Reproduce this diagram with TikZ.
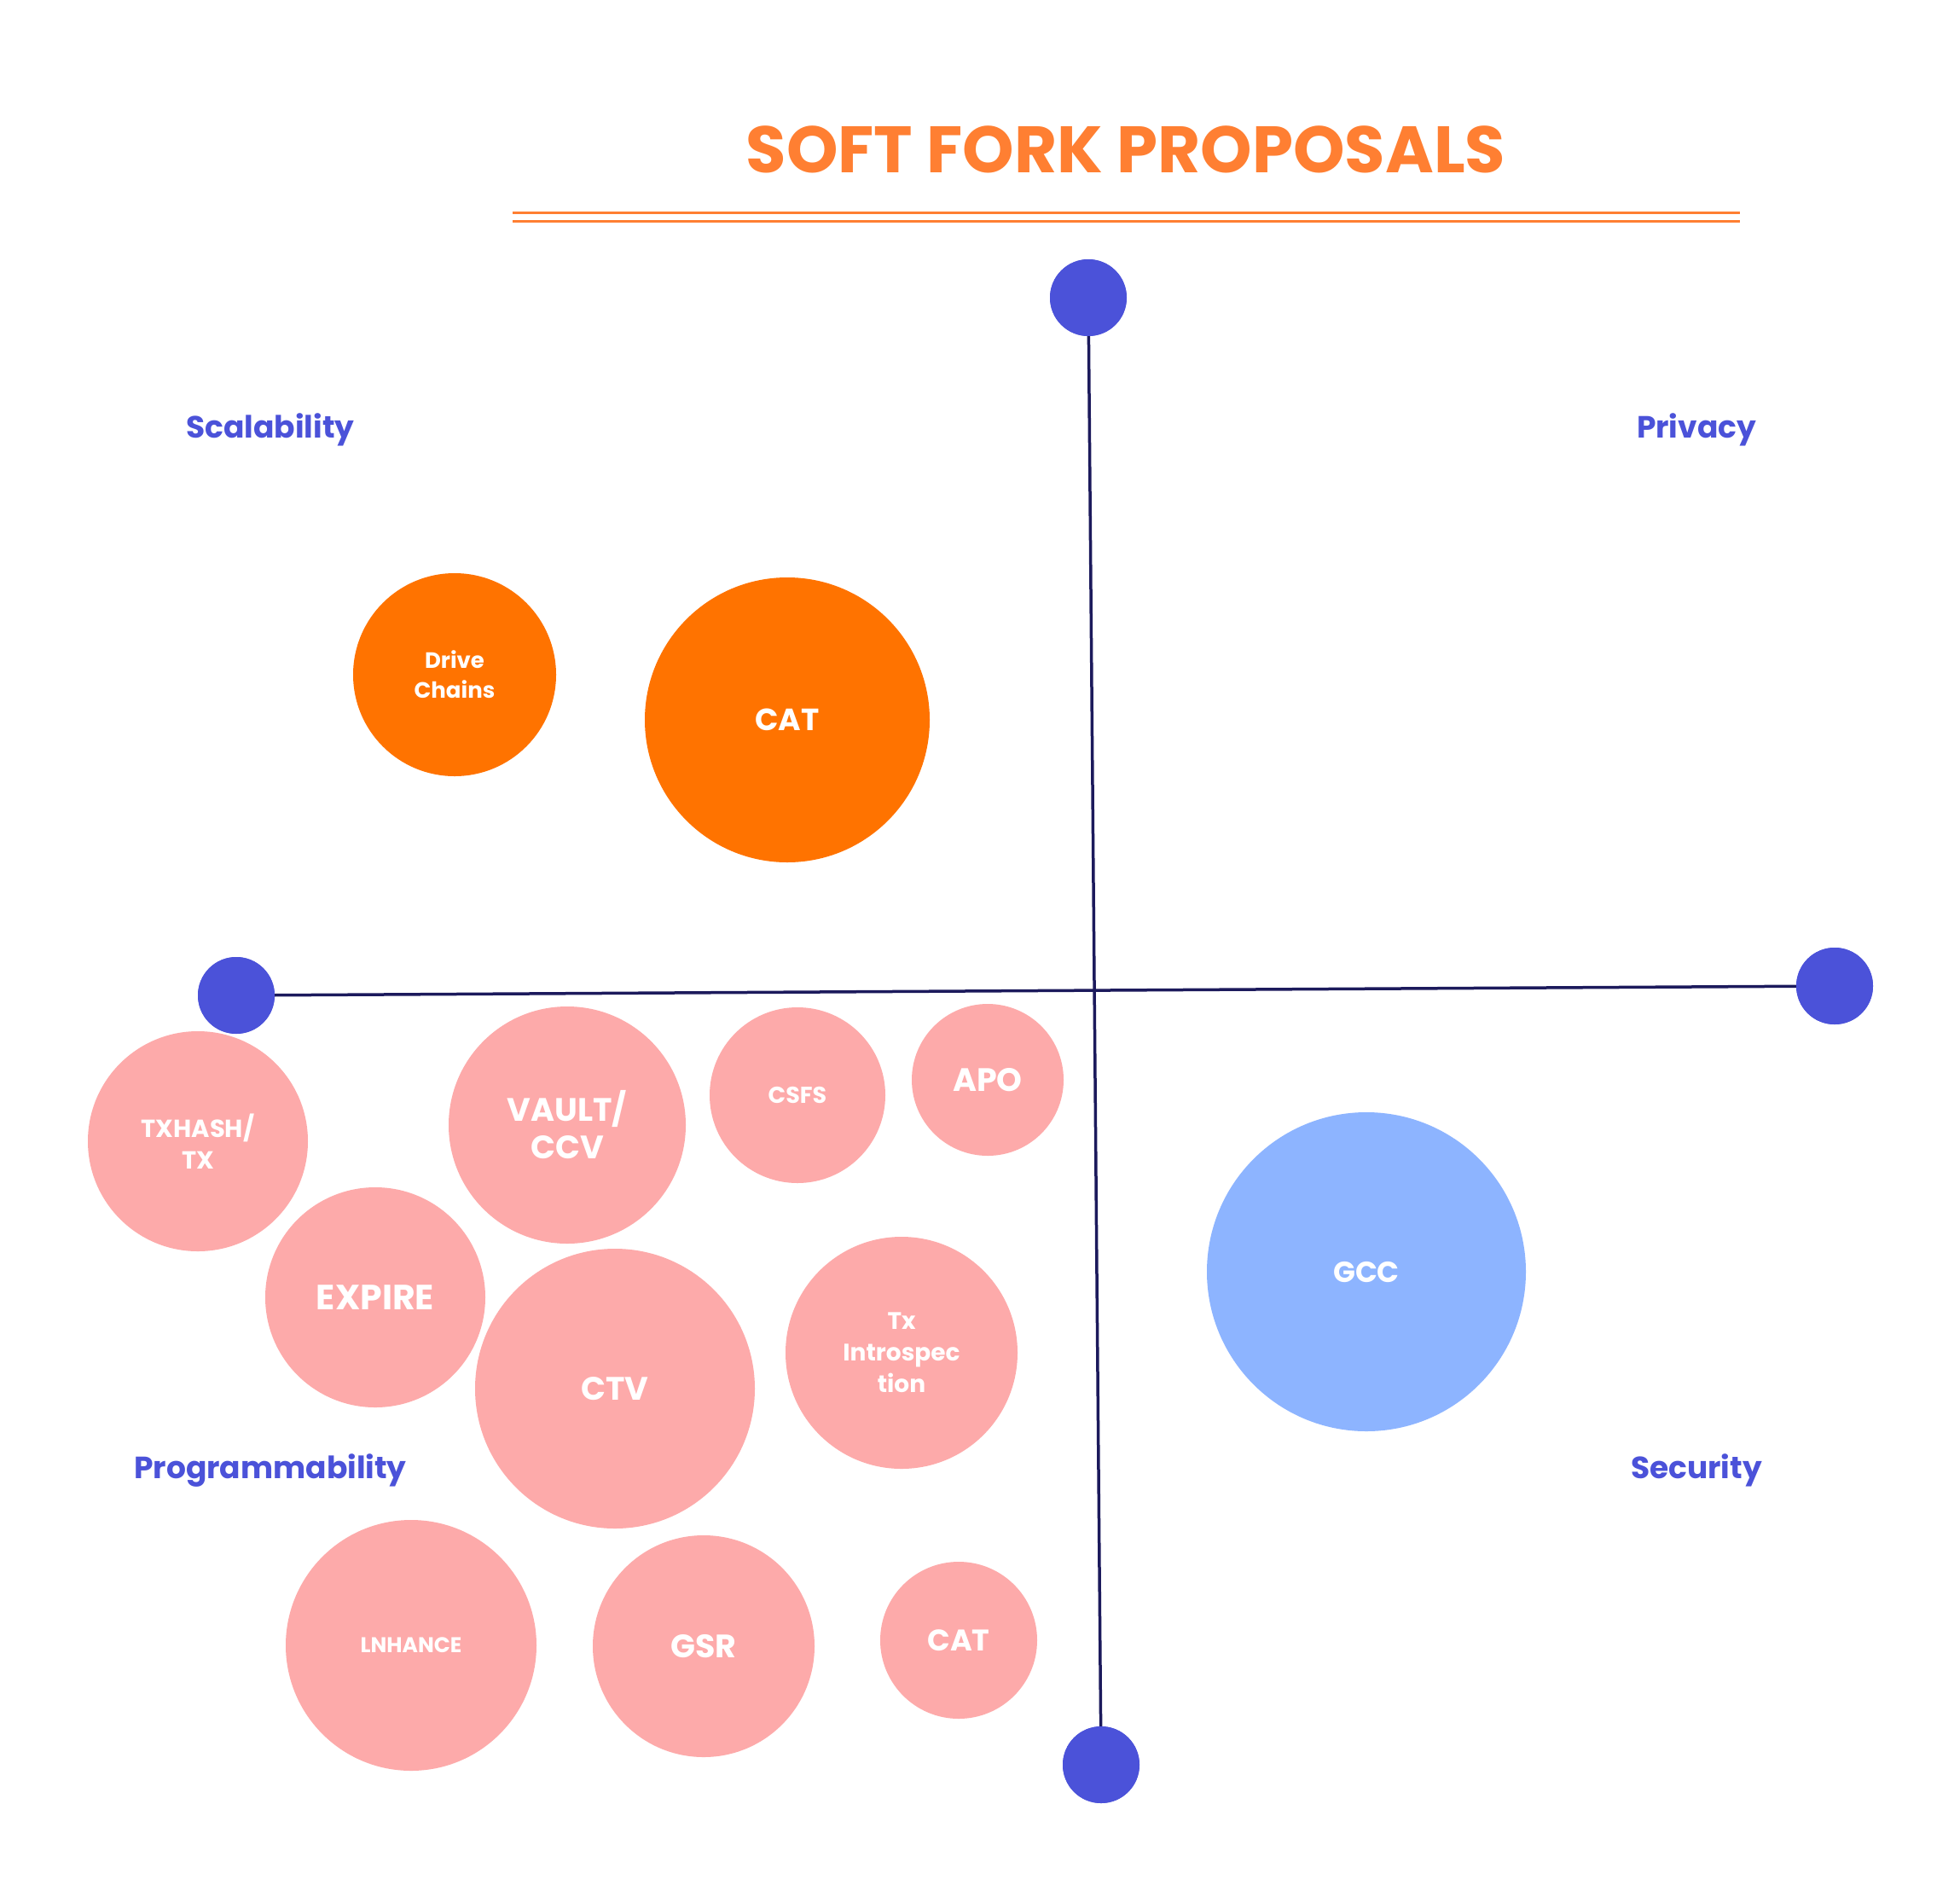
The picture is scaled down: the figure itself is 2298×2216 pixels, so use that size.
\documentclass[tikz,border=0pt]{standalone}
\usepackage{fontspec}
\setmainfont{Poppins}
\definecolor{titleorange}{HTML}{FF7F32}
\definecolor{bubbleorange}{HTML}{FF7300}
\definecolor{bubblepink}{HTML}{FDAAAA}
\definecolor{bubbleblue}{HTML}{8DB4FF}
\definecolor{axisdot}{HTML}{4B52D9}
\definecolor{axisline}{HTML}{1C1A5C}
\begin{document}
\begin{tikzpicture}[x=1pt,y=-1pt,
  bubble/.style={circle,inner sep=0pt,text=white,align=center,font=\bfseries},
  orangebubble/.style={bubble,fill=bubbleorange},
  pinkbubble/.style={bubble,fill=bubblepink},
  bluebubble/.style={bubble,fill=bubbleblue},
  axisend/.style={circle,fill=axisdot,minimum size=90pt,inner sep=0pt},
  axis/.style={draw=axisline,line width=3.5pt},
  quadlabel/.style={text=axisdot,font=\fontsize{36}{40}\selectfont\bfseries},
  rule/.style={draw=titleorange,line width=3pt}]
\useasboundingbox (0,0) rectangle (2298,2216);
\fill[white] (0,0) rectangle (2298,2216);

% title and double rule
\node (title) at (1320,175) {\fontsize{77}{88}\selectfont\bfseries\color{titleorange}SOFT FORK PROPOSALS};
\coordinate (r1a) at (601,249); \coordinate (r1b) at (2040,249);
\coordinate (r2a) at (601,259); \coordinate (r2b) at (2040,259);
\draw[rule] (r1a) -- (r1b);
\draw[rule] (r2a) -- (r2b);

% axes
\node[axisend] (top) at (1276,349) {};
\node[axisend] (bottom) at (1291,2069) {};
\node[axisend] (left) at (277,1167) {};
\node[axisend] (right) at (2151,1156) {};
\draw[axis] (top.center) -- (bottom.center);
\draw[axis] (left.center) -- (right.center);
\node[axisend] at (1276,349) {};
\node[axisend] at (1291,2069) {};
\node[axisend] at (277,1167) {};
\node[axisend] at (2151,1156) {};

% quadrant labels
\node[quadlabel] (scal) at (317,504) {Scalability};
\node[quadlabel] (priv) at (1989,504) {Privacy};
\node[quadlabel] (prog) at (317,1724) {Programmability};
\node[quadlabel] (secu) at (1989,1724) {Security};

% proposals
\node[orangebubble,minimum size=238pt,font=\fontsize{26}{35}\selectfont\bfseries] (drive) at (533,791) {Drive\\Chains};
\node[orangebubble,minimum size=334pt,font=\fontsize{36}{44}\selectfont\bfseries] (catA) at (923,844) {CAT};
\node[pinkbubble,minimum size=258pt,font=\fontsize{29}{37}\selectfont\bfseries] (txhash) at (232,1338) {TXHASH/\\TX};
\node[pinkbubble,minimum size=278pt,font=\fontsize{38}{44}\selectfont\bfseries] (vault) at (665,1319) {VAULT/\\CCV};
\node[pinkbubble,minimum size=206pt,font=\fontsize{27}{30}\selectfont\bfseries] (csfs) at (935,1284) {CSFS};
\node[pinkbubble,minimum size=178pt,font=\fontsize{38}{40}\selectfont\bfseries] (apo) at (1158,1266) {APO};
\node[pinkbubble,minimum size=258pt,font=\fontsize{41}{44}\selectfont\bfseries] (expire) at (440,1521) {EXPIRE};
\node[pinkbubble,minimum size=328pt,font=\fontsize{38}{46}\selectfont\bfseries] (ctv) at (721,1628) {CTV};
\node[pinkbubble,minimum size=272pt,font=\fontsize{28}{37}\selectfont\bfseries] (intro) at (1057,1586) {Tx\\Introspec\\tion};
\node[bluebubble,minimum size=374pt,font=\fontsize{34}{40}\selectfont\bfseries] (gcc) at (1602,1491) {GCC};
\node[pinkbubble,minimum size=294pt,font=\fontsize{25}{28}\selectfont\bfseries] (lnh) at (482,1929) {LNHANCE};
\node[pinkbubble,minimum size=260pt,font=\fontsize{38}{42}\selectfont\bfseries] (gsr) at (825,1930) {GSR};
\node[pinkbubble,minimum size=184pt,font=\fontsize{35}{40}\selectfont\bfseries] (catB) at (1124,1923) {CAT};
\end{tikzpicture}
\end{document}
